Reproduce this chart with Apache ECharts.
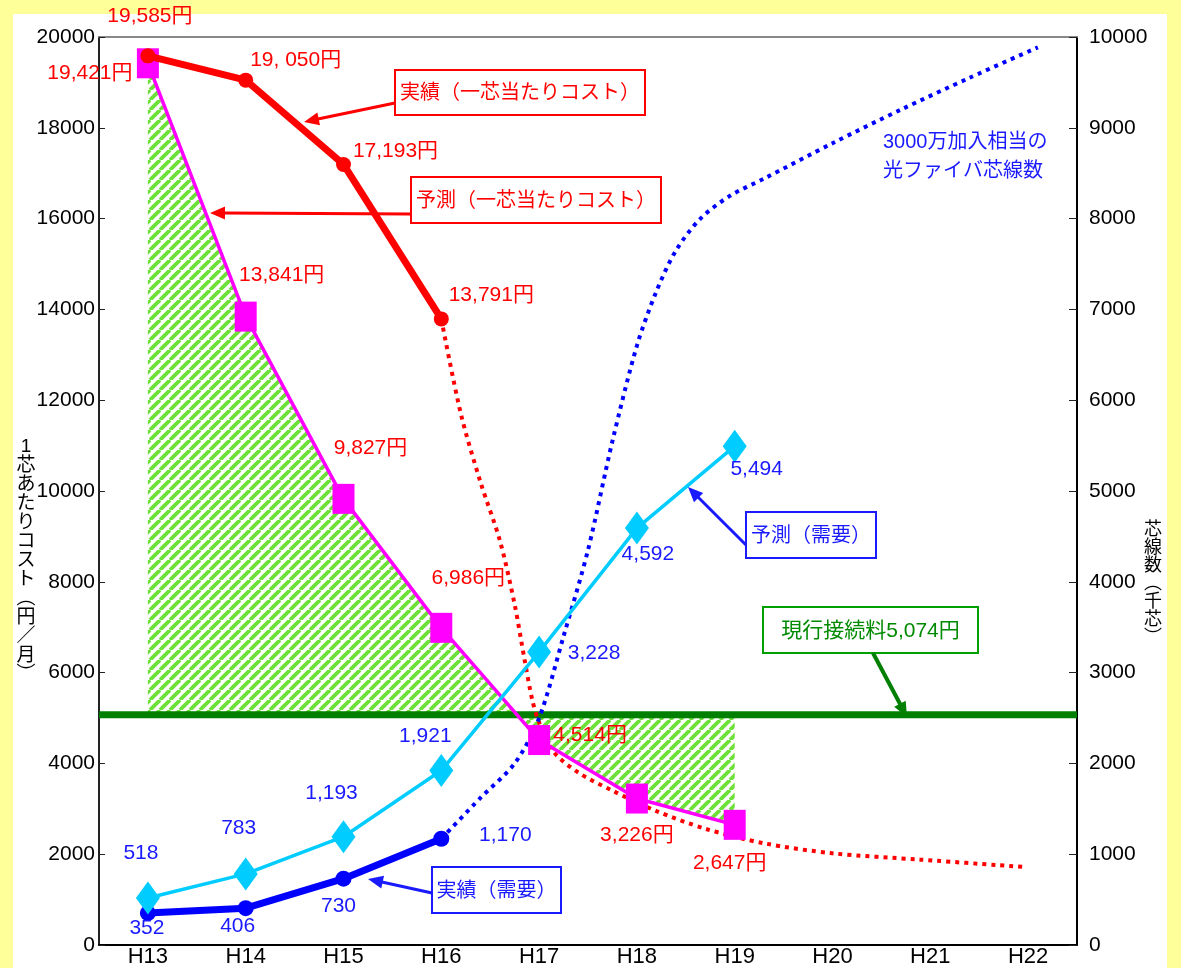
<!DOCTYPE html>
<html>
<head>
<meta charset="utf-8">
<script src="https://cdn.jsdelivr.net/npm/echarts@6/dist/echarts.min.js"></script>
<style>
  html, body { margin: 0; padding: 0; background: #ffff99; }
  #panel { position: absolute; left: 13px; top: 14px; width: 1154px; height: 954px; background: #ffffff; }
  #chart { position: absolute; left: 0; top: 0; width: 1181px; height: 968px; }
</style>
</head>
<body>
<div id="panel"></div>
<div id="chart"></div>
<script>
// ---- data ----
const years = ['H13', 'H14', 'H15', 'H16', 'H17', 'H18', 'H19', 'H20', 'H21', 'H22'];
const costActual = [19585, 19050, 17193, 13791];            // 実績（一芯当たりコスト）円/月
const costActualText = ['19,585円', '19, 050円', '17,193円', '13,791円'];
const costForecast = [19421, 13841, 9827, 6986, 4514, 3226, 2647]; // 予測（一芯当たりコスト）
const demandActual = [352, 406, 730, 1170];                 // 実績（需要）千芯
const demandForecast = [518, 783, 1193, 1921, 3228, 4592, 5494];   // 予測（需要）千芯
const connectionFee = 5074;                                  // 現行接続料
// dotted trend curves: [year index, value]
const costTrend = [[3, 13791], [3.2, 11700], [3.4, 10200], [3.6, 8900], [3.75, 7500], [3.85, 6300],
  [3.93, 5400], [4.0, 4900], [4.15, 4250], [4.4, 3800], [4.75, 3400], [5.2, 2950], [5.7, 2560],
  [6.3, 2240], [7.0, 2020], [7.9, 1880], [8.97, 1718]];
const fiberTrend = [[3, 1170], [3.4, 1620], [3.75, 2000], [4.0, 2500], [4.25, 3400], [4.5, 4350],
  [4.75, 5550], [5.0, 6600], [5.2, 7200], [5.4, 7650], [5.65, 8000], [5.95, 8250], [6.3, 8440],
  [7.0, 8830], [7.7, 9200], [8.4, 9550], [9.1, 9886]];

// ---- label placement (pixel offsets from each mark) ----
const costActualLabelOffset = [[2, -40], [50, -20], [52, -13], [50, -24]];
const costForecastLabelOffset = [[-58, 10], [36, -41], [27, -51], [27, -50], [51, -5], [0, 37], [-5, 38]];
const demandForecastLabelOffset = [[-7, -45], [-7, -46], [-12, -43], [-16, -34], [55, 1], [11, 26], [22, 23]];
const demandActualLabelOffset = [[-1, 15], [-8, 18], [-5, 27], [64, -4]];

const FONT = '"Liberation Sans", Arial, "Noto Sans CJK JP", sans-serif';
const RED = '#ff0000', MAGENTA = '#ff00ff', CYAN = '#00ccff', BLUE = '#0000ff', GREEN = '#007f00';
const LABEL_BLUE = '#1a1aff';
const X_EXTENT = [-0.5, years.length - 0.5];

const fmt = v => v.toLocaleString('en-US');

// outline of the hatched region between the forecast cost and the connection fee
const hatchX = [], hatchM = [];
costForecast.forEach((v, i) => {
  if (i > 0) {
    const p = costForecast[i - 1];
    if ((p - connectionFee) * (v - connectionFee) < 0) {
      hatchX.push(i - 1 + (p - connectionFee) / (p - v));
      hatchM.push(connectionFee);
    }
  }
  hatchX.push(i);
  hatchM.push(v);
});

function makeHatch() {
  const s = 10;
  const c = document.createElement('canvas');
  c.width = s; c.height = s;
  const g = c.getContext('2d');
  g.strokeStyle = '#6ee03a';
  g.lineWidth = 3.8;
  for (let k = -1; k <= 1; k++) {
    g.beginPath();
    g.moveTo(k * s, s);
    g.lineTo(k * s + s, 0);
    g.stroke();
  }
  return c;
}
const hatchImage = makeHatch();

function labelled(values, offsets, texts, suffix) {
  return values.map((v, i) => ({
    value: v,
    label: { offset: offsets[i], formatter: texts ? texts[i] : fmt(v) + (suffix || '') }
  }));
}
function baseLabel(color) {
  return { show: true, position: 'inside', color: color, fontSize: 21, fontFamily: FONT };
}

// annotation helpers
function arrow(x1, y1, x2, y2, color, width, head) {
  const dx = x2 - x1, dy = y2 - y1, len = Math.hypot(dx, dy);
  const ux = dx / len, uy = dy / len;
  const hl = head || 15, hw = 6.5;
  const bx = x2 - ux * hl, by = y2 - uy * hl;
  return [
    { type: 'line', shape: { x1: x1, y1: y1, x2: bx + ux * 2, y2: by + uy * 2 }, style: { stroke: color, lineWidth: width }, z: 50 },
    { type: 'polygon', shape: { points: [[x2, y2], [bx - uy * hw, by + ux * hw], [bx + uy * hw, by - ux * hw]] }, style: { fill: color }, z: 50 }
  ];
}
function box(x, y, w, h, text, color, textColor, fontSize) {
  return [
    { type: 'rect', shape: { x: x, y: y, width: w, height: h }, style: { fill: '#ffffff', stroke: color, lineWidth: 2 }, z: 50 },
    { type: 'text', x: x + w / 2, y: y + h / 2 + 1, style: { text: text, fill: textColor || color, font: (fontSize || 20) + 'px ' + FONT, align: 'center', verticalAlign: 'middle' }, z: 51 }
  ];
}
function verticalText(chars, x, yCenter, size, color) {
  return { type: 'text', x: x, y: yCenter, style: { text: chars.join('\n'), fill: color, font: size + 'px ' + FONT, lineHeight: size, align: 'center', verticalAlign: 'middle' }, z: 50 };
}

const chart = echarts.init(document.getElementById('chart'), null, { renderer: 'canvas' });

const graphics = [].concat(
  box(395, 70, 250, 45, '実績（一芯当たりコスト）', RED),
  arrow(395, 103, 304, 122, RED, 3),
  box(411, 177, 250, 46, '予測（一芯当たりコスト）', RED),
  arrow(411, 214, 210, 213, RED, 3),
  box(746, 512, 130, 46, '予測（需要）', LABEL_BLUE),
  arrow(746, 545, 688, 487, LABEL_BLUE, 3),
  box(763, 607, 215, 46, '現行接続料5,074円', '#00a000', '#008a00', 21),
  arrow(873, 653, 907, 717, GREEN, 4),
  box(432, 867, 129, 46, '実績（需要）', LABEL_BLUE),
  arrow(432, 893, 368, 879, LABEL_BLUE, 3),
  [
    { type: 'text', x: 883, y: 128, style: { text: '3000万加入相当の\n光ファイバ芯線数', fill: LABEL_BLUE, font: '20px ' + FONT, lineHeight: 29, align: 'left', verticalAlign: 'top' }, z: 50 },
    verticalText(['1', '芯', 'あ', 'た', 'り', 'コ', 'ス', 'ト', '︵', '円', '／', '月', '︶'], 26, 561, 19, '#000'),
    verticalText(['芯', '線', '数', '︵', '千', '芯', '︶'], 1153, 584, 18, '#000')
  ]
);

const option = {
  animation: false,
  backgroundColor: 'transparent',
  textStyle: { fontFamily: FONT },
  grid: { left: 99, right: 104, top: 37, bottom: 18 },
  xAxis: [
    {
      type: 'category', data: years, boundaryGap: true, position: 'bottom',
      axisLine: { onZero: false, lineStyle: { color: '#000', width: 2 } },
      axisTick: { inside: true, length: 14, interval: 0, lineStyle: { color: '#222', width: 1 } },
      axisLabel: { color: '#000', fontSize: 22, margin: 1, fontFamily: FONT, interval: 0 },
      splitLine: { show: false }
    },
    {
      type: 'value', min: X_EXTENT[0], max: X_EXTENT[1], position: 'top',
      axisLine: { show: true, onZero: false, lineStyle: { color: '#888', width: 2 } },
      axisTick: { show: false }, axisLabel: { show: false }, splitLine: { show: false }
    }
  ],
  yAxis: [
    {
      type: 'value', min: 0, max: 20000, interval: 2000, position: 'left',
      axisLine: { show: true, onZero: false, lineStyle: { color: '#222', width: 2 } },
      axisTick: { show: true, inside: true, length: 6, lineStyle: { color: '#222' } },
      axisLabel: { color: '#000', fontSize: 21, margin: 4, fontFamily: FONT, formatter: v => String(v) },
      splitLine: { show: false }
    },
    {
      type: 'value', min: 0, max: 10000, interval: 1000, position: 'right',
      axisLine: { show: true, onZero: false, lineStyle: { color: '#000', width: 2 } },
      axisTick: { show: true, inside: true, length: 8, lineStyle: { color: '#222' } },
      axisLabel: { color: '#000', fontSize: 21, margin: 12, fontFamily: FONT, formatter: v => String(v) },
      splitLine: { show: false }
    }
  ],
  series: [
    {
      name: 'hatch', type: 'custom', xAxisIndex: 1, yAxisIndex: 0, silent: true, z: 1,
      data: [[hatchX[0], connectionFee]],
      renderItem: (params, api) => {
        const pts = hatchX.map((x, i) => api.coord([x, hatchM[i]]));
        pts.push(api.coord([hatchX[hatchX.length - 1], connectionFee]));
        pts.push(api.coord([hatchX[0], connectionFee]));
        return {
          type: 'polygon', shape: { points: pts },
          style: { fill: { image: hatchImage, repeat: 'repeat' }, stroke: null }
        };
      }
    },
    {
      name: '現行接続料', type: 'line', xAxisIndex: 1, yAxisIndex: 0, silent: true, z: 2,
      data: X_EXTENT.map(x => [x, connectionFee]), symbol: 'none',
      lineStyle: { color: GREEN, width: 7 }
    },
    {
      name: 'cost-trend', type: 'line', xAxisIndex: 1, yAxisIndex: 0, smooth: 0.3, silent: true,
      data: costTrend, symbol: 'none', lineStyle: { color: RED, width: 4, type: [4, 5] }, z: 3
    },
    {
      name: 'fiber-trend', type: 'line', xAxisIndex: 1, yAxisIndex: 1, smooth: 0.3, silent: true,
      data: fiberTrend, symbol: 'none', lineStyle: { color: BLUE, width: 4, type: [4, 5] }, z: 3
    },
    {
      name: '予測（一芯当たりコスト）', type: 'line', xAxisIndex: 0, yAxisIndex: 0,
      data: labelled(costForecast, costForecastLabelOffset, null, '円'),
      symbol: 'rect', symbolSize: [22, 30], itemStyle: { color: MAGENTA },
      lineStyle: { color: MAGENTA, width: 3.5 }, label: baseLabel(RED), z: 5
    },
    {
      name: '実績（一芯当たりコスト）', type: 'line', xAxisIndex: 0, yAxisIndex: 0,
      data: labelled(costActual, costActualLabelOffset, costActualText),
      symbol: 'circle', symbolSize: 15, itemStyle: { color: RED },
      lineStyle: { color: RED, width: 7 }, label: baseLabel(RED), z: 6
    },
    {
      name: '予測（需要）', type: 'line', xAxisIndex: 0, yAxisIndex: 1,
      data: labelled(demandForecast, demandForecastLabelOffset),
      symbol: 'diamond', symbolSize: [24, 33], itemStyle: { color: CYAN },
      lineStyle: { color: CYAN, width: 3.5 }, label: baseLabel(LABEL_BLUE), z: 5
    },
    {
      name: '実績（需要）', type: 'line', xAxisIndex: 0, yAxisIndex: 1,
      data: labelled(demandActual, demandActualLabelOffset),
      symbol: 'circle', symbolSize: 16, itemStyle: { color: BLUE },
      lineStyle: { color: BLUE, width: 7 }, label: baseLabel(LABEL_BLUE), z: 4
    }
  ],
  graphic: graphics
};

chart.setOption(option);
</script>
</body>
</html>
